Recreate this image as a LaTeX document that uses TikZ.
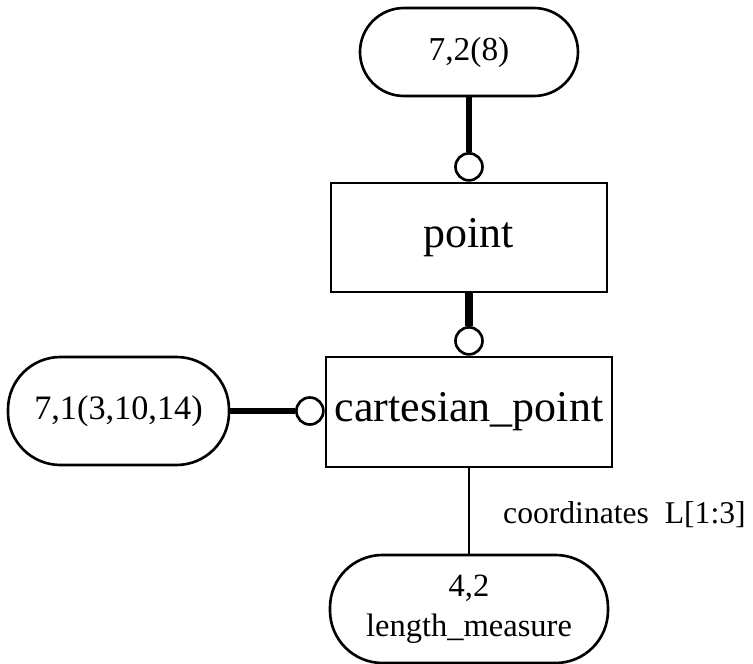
\documentclass[tikz,border=0pt]{standalone}
\usepackage{fontspec}
\setmainfont{Liberation Serif}
\usepackage{tikz}
\usetikzlibrary{positioning}

\begin{document}
\begin{tikzpicture}[every node/.style={font=\fontsize{18pt}{20pt}\selectfont},
                        ent/.style={draw,line width=1.5pt,inner sep=0pt,
                          font=\fontsize{25pt}{28pt}\selectfont},
                        refbox/.style={draw,line width=1.5pt,inner sep=0pt,
                          rounded corners=1.05cm,align=center},
                        ring/.style={draw,circle,fill=white,line width=1.5pt,
                          minimum size=0.54cm,inner sep=0pt},
                        ln/.style={line width=1.3pt}]
      \useasboundingbox (0,0) rectangle (15.06,-13.28);
      \node[refbox, minimum width=4.36cm, minimum height=1.76cm, rounded corners=0.88cm,
            font=\fontsize{19pt}{20pt}\selectfont]
        (ref72) at (9.38,-1.04) {7,2(8)};
      \node[ent, minimum width=5.52cm, minimum height=2.18cm]
        (point) at (9.38,-4.75) {point};
      \node[ent, minimum width=5.72cm, minimum height=2.20cm]
        (cart) at (9.38,-8.24) {cartesian\_point};
      \node[refbox, minimum width=4.42cm, minimum height=2.16cm,
            font=\fontsize{19.5pt}{20pt}\selectfont]
        (ref71) at (2.37,-8.22) {7,1(3,10,14)};
      \node[refbox, minimum width=5.56cm, minimum height=2.16cm,
            font=\fontsize{18.5pt}{23pt}\selectfont]
        (ref42) at (9.38,-12.18) {4,2\\length\_measure};
      \node[ring, anchor=south] (r1) at (point.north) {};
      \node[ring, anchor=south] (r2) at (cart.north) {};
      \node[ring, anchor=east]  (r3) at (cart.west |- ref71) {};
      \node[anchor=west] (attr) at (9.94,-10.30) {coordinates~~L[1:3]};
      \draw[line width=3.6pt](ref72)--(r1);
      \draw[line width=4.8pt](point.south)--(r2);
      \draw[line width=3.0pt](ref71)--(r3);
      \draw[ln](cart.south)--(ref42);
    \end{tikzpicture}
\end{document}
